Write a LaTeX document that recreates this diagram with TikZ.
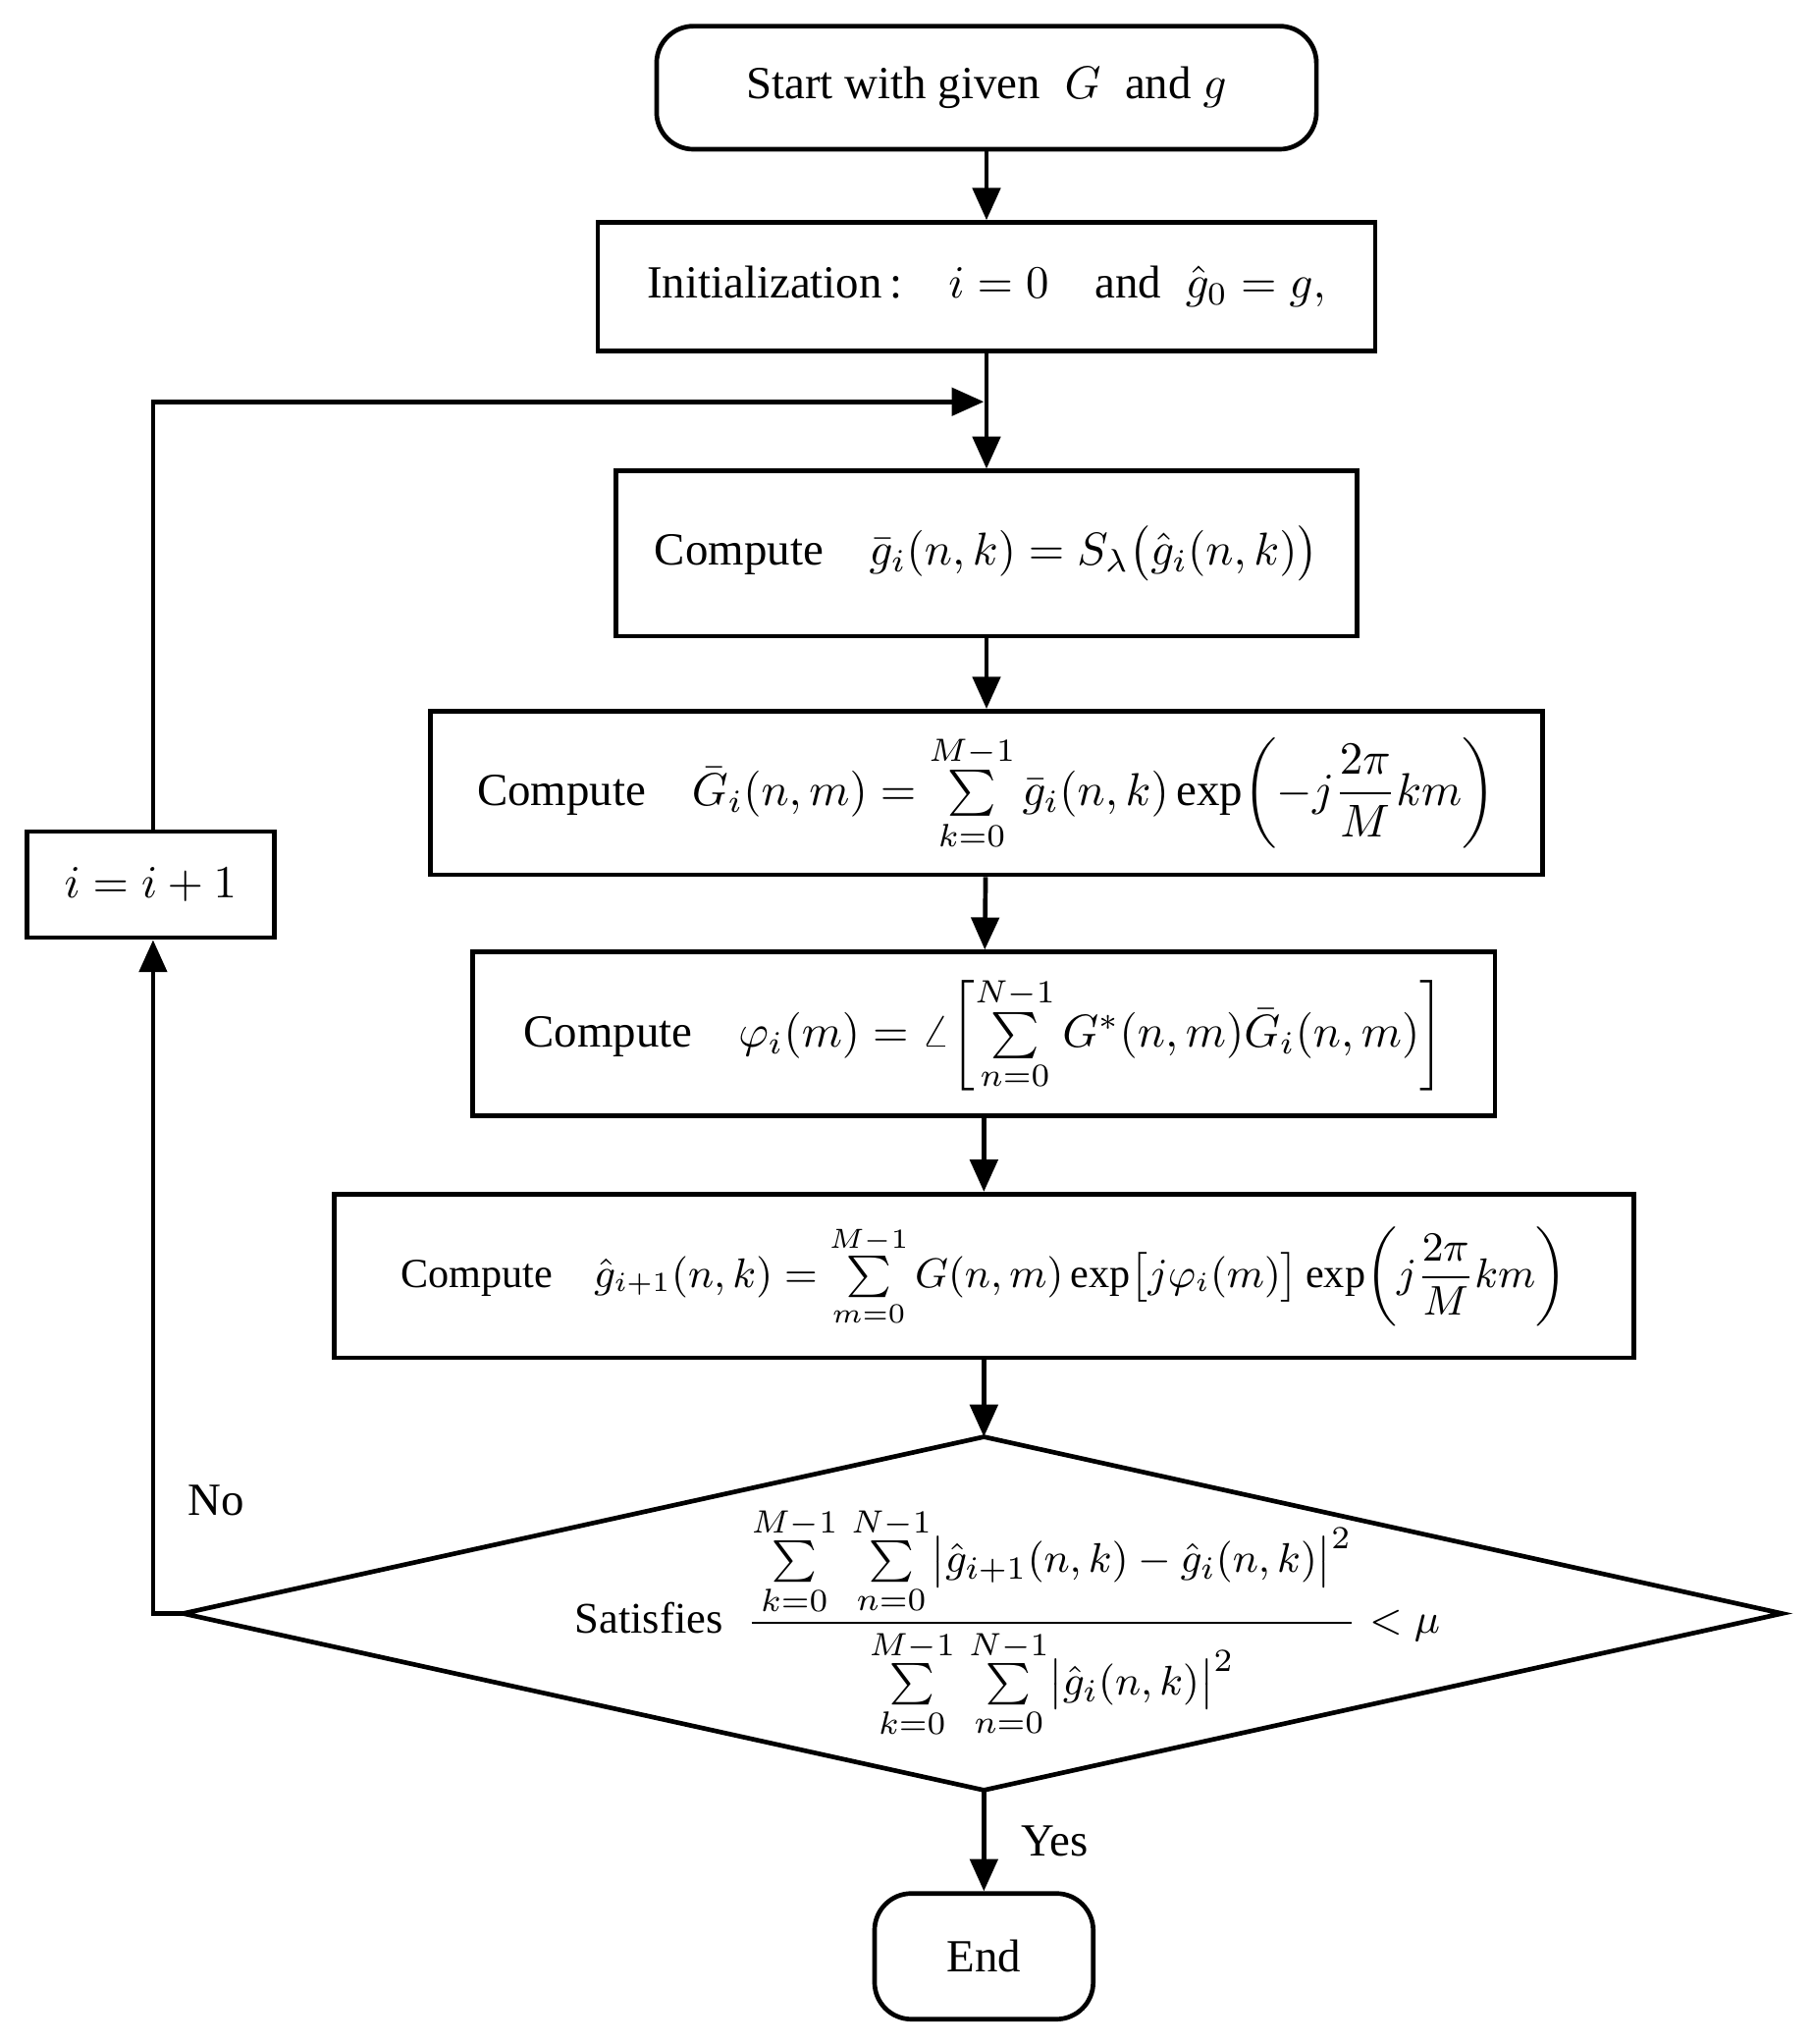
\documentclass[tikz,border=0pt]{standalone}
\usepackage{amsmath}
\usepackage{fontspec}
\setmainfont{Liberation Serif}
\usetikzlibrary{arrows.meta}
\begin{document}
\begin{tikzpicture}[x=0.01cm,y=-0.01cm,
  box/.style={draw,line width=1pt,inner sep=0pt,font=\fontsize{10}{12}\selectfont},
  arr/.style={-{Triangle[length=7pt,width=6pt]},line width=1pt},
  ln/.style={line width=1pt}]
\useasboundingbox (0,0) rectangle (1385,1562);
\node[box,rounded corners=8pt,minimum width=5.04cm,minimum height=0.94cm] (start) at (754,67) {Start with given $\;G\;$ and $g$};
\node[box,minimum width=5.94cm,minimum height=0.98cm] (init) at (754,219) {Initialization\,:\quad $i=0$\quad and\; $\hat g_0=g,$};
\node[box,minimum width=5.66cm,minimum height=1.26cm] (c1) at (754,423) {Compute\quad $\bar g_i(n,k)=S_\lambda\bigl(\hat g_i(n,k)\bigr)$};
\node[box,minimum width=8.5cm,minimum height=1.25cm] (c2) at (754,606) {Compute\quad $\bar G_i(n,m)=\sum\limits_{k=0}^{M-1}\bar g_i(n,k)\exp\!\left(-j\dfrac{2\pi}{M}km\right)$};
\node[box,minimum width=7.81cm,minimum height=1.25cm] (c3) at (752,790) {Compute\quad $\varphi_i(m)=\angle\!\left[\sum\limits_{n=0}^{N-1}G^{*}(n,m)\bar G_i(n,m)\right]$};
\node[box,minimum width=9.93cm,minimum height=1.25cm,font=\fontsize{9}{11}\selectfont] (c4) at (752,975) {Compute\quad $\hat g_{i+1}(n,k)=\sum\limits_{m=0}^{M-1}G(n,m)\exp\bigl[j\varphi_i(m)\bigr]\exp\!\left(j\dfrac{2\pi}{M}km\right)$};
\coordinate (dt) at (752,1098); \coordinate (dr) at (1362,1233);
\coordinate (db) at (752,1368); \coordinate (dl) at (140,1233);
\draw[ln] (dt)--(dr)--(db)--(dl)--cycle;
\node[font=\fontsize{9.5}{11}\selectfont] (dtext) at (770,1240) {Satisfies\; $\dfrac{\sum\limits_{k=0}^{M-1}\,\sum\limits_{n=0}^{N-1}\bigl|\hat g_{i+1}(n,k)-\hat g_i(n,k)\bigr|^2}{\sum\limits_{k=0}^{M-1}\,\sum\limits_{n=0}^{N-1}\bigl|\hat g_i(n,k)\bigr|^2}<\mu$};
\node[box,rounded corners=8pt,minimum width=1.67cm,minimum height=0.96cm] (end) at (752,1495) {End};
\node[box,minimum width=1.89cm,minimum height=0.81cm] (inc) at (115,676) {$i=i+1$};
\coordinate (j) at (752,307);
\draw[arr] (start)--(init);
\draw[arr] (init)--(c1);
\draw[arr] (c1)--(c2);
\draw[arr] (c2)--(c3);
\draw[arr] (c3)--(c4);
\draw[arr] (c4)--(dt);
\draw[arr] (db)--(end);
\draw[arr] (dl)--(117,1233)--(inc.south-|117,0);
\draw[arr] (inc.north-|117,0)--(117,307)--(j);
\node[font=\fontsize{10}{12}\selectfont] (no) at (165,1147) {No};
\node[font=\fontsize{10}{12}\selectfont] (yes) at (806,1407) {Yes};
\end{tikzpicture}
\end{document}
